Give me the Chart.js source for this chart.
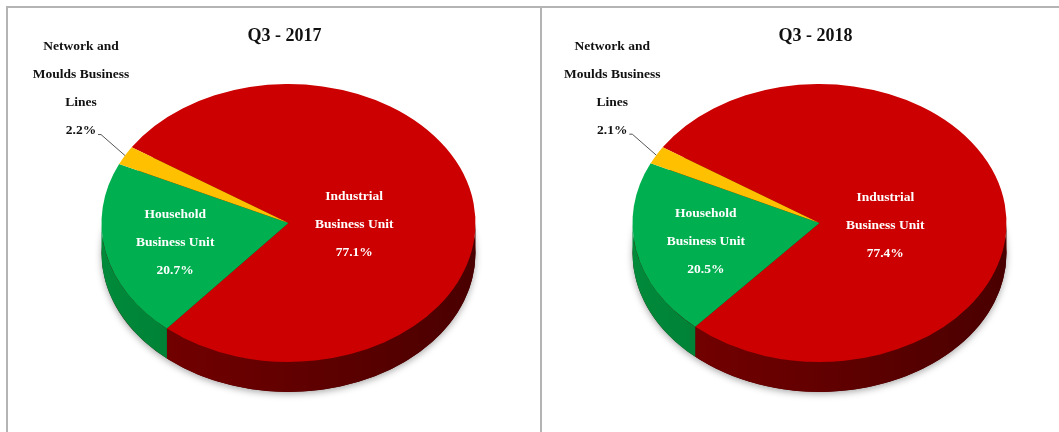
<!DOCTYPE html>
<html>
<head>
<meta charset="utf-8">
<script src="https://cdn.jsdelivr.net/npm/chart.js@4.4.0/dist/chart.umd.min.js"></script>
<style>
  body { margin: 0; background: #fff; width: 1059px; height: 432px; overflow: hidden; position: relative; }
  .frame { position: absolute; top: 6px; height: 440px; border-top: 2px solid #b4b4b4; border-left: 2px solid #b4b4b4; }
  canvas { position: absolute; top: 0; }
</style>
</head>
<body>
<div class="frame" style="left:6px; width:1060px"></div>
<div class="frame" style="left:540px; width:530px"></div>
<canvas id="pie2017" width="528" height="432" style="left:0px"></canvas>
<canvas id="pie2018" width="528" height="432" style="left:531px"></canvas>
<script>
// data
const categories = [
  ['Industrial', 'Business Unit'],
  ['Household', 'Business Unit'],
  ['Network and', 'Moulds Business', 'Lines']
];
const share2017 = [77.1, 20.7, 2.2];
const share2018 = [77.4, 20.5, 2.1];
const titles = ['Q3 - 2017', 'Q3 - 2018'];

// styling
const topColors = ['#cc0000', '#00b050', '#ffc000'];
const sideColors = [['#7a0000', '#4a0000'], ['#008a3a', '#005c27'], ['#c79600', '#a07800']];
const labelRadius = [0.355, 0.62];
const labelNudgeY = [9, 1];   // perspective: the visual centre sits a bit lower
const TILT = 0.743;   // vertical squash of the pie
const DEPTH = 30;     // thickness of the 3d side
const FONT = '"Liberation Serif", "Times New Roman", serif';

// draws the side wall and squashes the top face into an ellipse
const pie3d = {
  id: 'pie3d',
  beforeDatasetsDraw(chart) {
    const ctx = chart.ctx;
    const arcs = chart.getDatasetMeta(0).data;
    const { x, y, outerRadius: r } = arcs[0];
    const ry = r * TILT;

    // soft shadow under the pie
    ctx.save();
    ctx.shadowColor = 'rgba(0,0,0,0.35)';
    ctx.shadowBlur = 7;
    ctx.shadowOffsetY = 2;
    ctx.fillStyle = '#4a0000';
    ctx.beginPath();
    ctx.ellipse(x, y + DEPTH, r, ry, 0, 0, Math.PI * 2);
    ctx.fill();
    ctx.restore();

    ctx.save();
    arcs.forEach((arc, i) => {
      const g = ctx.createLinearGradient(x - r, 0, x + r, 0);
      g.addColorStop(0, sideColors[i][0]);
      g.addColorStop(1, sideColors[i][1]);
      for (let k = -1; k <= 2; k++) {
        const lo = Math.max(arc.startAngle, k * 2 * Math.PI);
        const hi = Math.min(arc.endAngle, k * 2 * Math.PI + Math.PI);
        if (hi <= lo) continue;
        ctx.beginPath();
        ctx.ellipse(x, y, r, ry, 0, lo, hi);
        ctx.ellipse(x, y + DEPTH, r, ry, 0, hi, lo, true);
        ctx.closePath();
        ctx.fillStyle = g;
        ctx.fill();
      }
    });
    ctx.restore();

    ctx.save();
    ctx.translate(x, y);
    ctx.scale(1, TILT);
    ctx.translate(-x, -y);
  },
  afterDatasetsDraw(chart) {
    chart.ctx.restore();
  }
};

const sliceLabels = {
  id: 'sliceLabels',
  afterDraw(chart, args, opts) {
    const ctx = chart.ctx;
    const arcs = chart.getDatasetMeta(0).data;
    const values = chart.data.datasets[0].data;
    const labels = chart.data.labels;
    const { x, y, outerRadius: r } = arcs[0];
    const lh = 28;

    ctx.save();
    ctx.textAlign = 'center';
    ctx.textBaseline = 'middle';

    ctx.fillStyle = '#111';
    ctx.font = 'bold 18px ' + FONT;
    ctx.fillText(opts.title, x - 4, y - r * TILT - 48);

    ctx.font = 'bold 13.5px ' + FONT;
    arcs.forEach((arc, i) => {
      const mid = (arc.startAngle + arc.endAngle) / 2;
      const lines = labels[i].concat([values[i].toFixed(1) + '%']);
      if (i < labelRadius.length) {
        const px = x + Math.cos(mid) * r * labelRadius[i];
        const py = y + Math.sin(mid) * r * labelRadius[i] * TILT + labelNudgeY[i];
        ctx.fillStyle = '#fff';
        lines.forEach((t, j) => ctx.fillText(t, px, py + (j - (lines.length - 1) / 2) * lh));
      } else {
        const ex = x + Math.cos(mid) * r;
        const ey = y + Math.sin(mid) * r * TILT;
        ctx.strokeStyle = '#555';
        ctx.lineWidth = 1;
        ctx.beginPath();
        ctx.moveTo(ex, ey);
        ctx.lineTo(ex - 24, ey - 21);
        ctx.lineTo(ex - 27, ey - 21);
        ctx.stroke();
        ctx.fillStyle = '#111';
        const last = ey - 25;
        lines.forEach((t, j) => ctx.fillText(t, ex - 44, last - (lines.length - 1 - j) * lh));
      }
    });
    ctx.restore();
  }
};

function makePie(id, values, title) {
  return new Chart(document.getElementById(id), {
    type: 'pie',
    data: {
      labels: categories,
      datasets: [{
        data: values,
        backgroundColor: topColors,
        borderWidth: 0,
        hoverOffset: 0,
        rotation: 303,
        radius: 187,
        clip: false
      }]
    },
    options: {
      responsive: false,
      animation: false,
      events: [],
      rotation: 303,
      layout: { padding: { left: 101.5, right: 52.5, top: 36, bottom: 22 } },
      plugins: {
        legend: { display: false },
        tooltip: { enabled: false },
        sliceLabels: { title: title }
      }
    },
    plugins: [pie3d, sliceLabels]
  });
}

makePie('pie2017', share2017, titles[0]);
makePie('pie2018', share2018, titles[1]);
</script>
</body>
</html>
